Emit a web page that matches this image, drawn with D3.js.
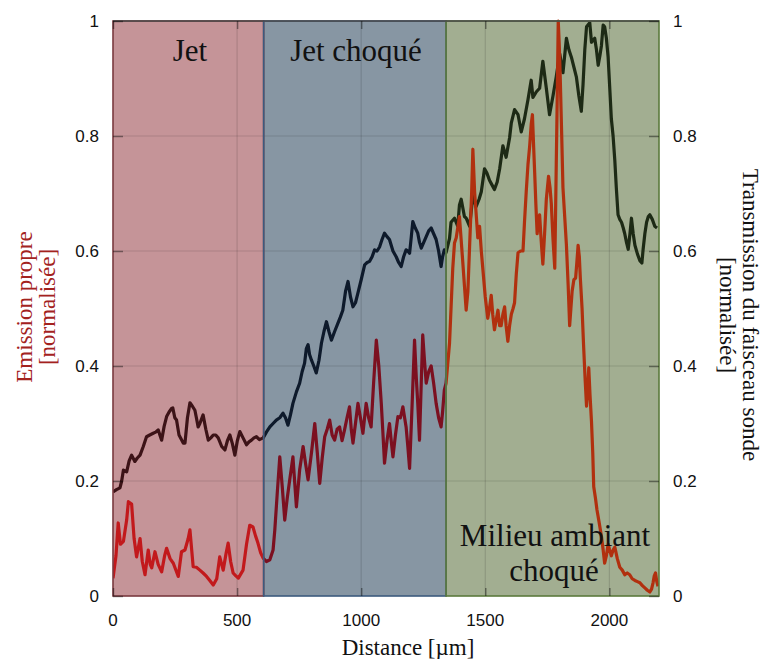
<!DOCTYPE html>
<html><head><meta charset="utf-8">
<script src="https://cdn.jsdelivr.net/npm/d3@7"></script>
<style>html,body{margin:0;padding:0;background:#fff;}svg{display:block;}</style>
</head><body>
<svg id="chart" width="763" height="659"></svg>
<script>
// ---- data ----
const regionNames = ["Jet", "Jet choqué", "Milieu ambiant"];
const regionStart = [0, 607, 1342];
const regionEnd = [607, 1342, 2200];
const xTicks = [0, 500, 1000, 1500, 2000];
const yTicks = [0, 0.2, 0.4, 0.6, 0.8, 1];
const yTickLabels = ["0", "0.2", "0.4", "0.6", "0.8", "1"];

const emissionDistance = [0,12,21,30,42,55,62,75,85,95,109,118,129,142,150,156,169,182,196,208,216,230,243,263,276,290,303,310,323,336,350,363,377,390,404,418,430,444,456,464,474,484,495,505,524,538,551,564,574,584,595,605,
618,632,645,652,662,672,682,692,702,712,725,739,752,766,776,786,800,813,823,833,843,853,863,873,883,893,903,913,923,933,943,953,960,967,977,987,997,1007,1020,1030,1040,1050,1061,1071,1081,1088,1094,1104,1114,1121,1128,1138,1148,1158,1168,1175,1181,1188,1195,1205,1215,1222,1228,1235,1242,1248,1255,1262,1272,1282,1292,1302,1312,1322,1328,1335,
1342,1356,1369,1376,1383,1396,1409,1416,1423,1430,1437,1445,1450,1457,1464,1470,1477,1484,1490,1500,1510,1517,1524,1530,1537,1544,1551,1558,1564,1571,1578,1584,1591,1598,1605,1612,1618,1625,1632,1642,1652,1658,1665,1672,1679,1685,1690,1695,1699,1704,1709,1714,1719,1725,1732,1739,1746,1755,1761,1766,1773,1780,1786,1789,1794,1798,1802,1808,1813,1820,1827,1834,1840,1845,1850,1857,1864,1869,1874,1879,1883,1890,1896,1902,1908,1913,1917,1922,1928,1933,1937,1944,1950,1958,1968,1975,1981,1988,1995,2001,2008,2015,2022,2032,2042,2052,2062,2072,2082,2092,2103,2113,2123,2133,2143,2153,2163,2170,2176,2181,2186,2191,2196];
const emissionValue = [0.031,0.07,0.127,0.09,0.095,0.132,0.164,0.16,0.1,0.068,0.1,0.06,0.037,0.08,0.055,0.049,0.077,0.055,0.042,0.07,0.083,0.065,0.057,0.034,0.077,0.08,0.1,0.115,0.051,0.05,0.045,0.04,0.034,0.027,0.019,0.03,0.068,0.045,0.075,0.092,0.06,0.04,0.035,0.031,0.045,0.09,0.123,0.12,0.105,0.092,0.075,0.066,
0.06,0.063,0.08,0.115,0.18,0.242,0.19,0.132,0.17,0.202,0.242,0.155,0.219,0.26,0.23,0.202,0.25,0.3,0.25,0.196,0.24,0.277,0.29,0.306,0.28,0.271,0.29,0.294,0.27,0.289,0.31,0.329,0.29,0.266,0.3,0.335,0.31,0.283,0.335,0.31,0.294,0.37,0.445,0.4,0.335,0.28,0.231,0.27,0.3,0.27,0.242,0.28,0.312,0.31,0.329,0.31,0.294,0.26,0.222,0.33,0.445,0.38,0.335,0.271,0.37,0.454,0.41,0.37,0.39,0.4,0.37,0.335,0.31,0.294,0.32,0.358,
0.37,0.44,0.57,0.614,0.623,0.66,0.583,0.54,0.497,0.53,0.61,0.7,0.777,0.703,0.66,0.623,0.643,0.6,0.57,0.52,0.483,0.5,0.523,0.49,0.463,0.48,0.497,0.47,0.47,0.49,0.503,0.47,0.443,0.47,0.49,0.5,0.51,0.56,0.597,0.6,0.6,0.65,0.703,0.75,0.783,0.82,0.837,0.78,0.737,0.68,0.63,0.65,0.663,0.62,0.577,0.63,0.69,0.73,0.71,0.683,0.62,0.57,0.75,0.837,1.0,0.96,0.903,0.8,0.71,0.66,0.61,0.54,0.47,0.5,0.53,0.55,0.553,0.58,0.61,0.59,0.553,0.5,0.437,0.38,0.33,0.36,0.397,0.35,0.303,0.25,0.19,0.17,0.15,0.13,0.104,0.08,0.057,0.07,0.09,0.08,0.07,0.08,0.085,0.065,0.05,0.045,0.037,0.04,0.037,0.03,0.027,0.025,0.023,0.018,0.014,0.01,0.007,0.012,0.023,0.035,0.04,0.025,0.017];

const transmissionDistance = [0,14,28,35,42,55,65,75,88,98,109,122,135,148,162,172,182,196,206,216,226,236,241,249,256,266,283,290,300,310,320,330,336,343,350,363,374,384,394,404,414,424,438,451,461,471,481,491,501,511,524,538,548,558,568,578,590,605,
618,632,645,658,672,685,695,705,715,725,739,752,762,772,779,786,792,799,809,819,830,840,850,860,870,880,893,906,916,926,937,947,957,967,977,987,1000,1014,1024,1034,1044,1054,1064,1074,1084,1094,1104,1114,1128,1141,1151,1161,1171,1181,1188,1195,1202,1208,1218,1228,1235,1242,1252,1262,1272,1282,1292,1302,1312,1322,1328,1335,
1342,1356,1362,1376,1389,1396,1403,1416,1423,1437,1450,1463,1475,1484,1497,1507,1517,1527,1537,1548,1558,1571,1584,1598,1605,1618,1632,1645,1658,1672,1685,1692,1706,1719,1732,1746,1759,1773,1786,1800,1813,1827,1837,1847,1857,1867,1877,1887,1894,1901,1908,1921,1928,1941,1948,1955,1962,1968,1975,1981,1988,1995,2002,2008,2015,2022,2028,2035,2042,2049,2056,2062,2069,2076,2083,2089,2096,2103,2113,2123,2131,2136,2143,2150,2157,2163,2173,2183,2192];
const transmissionValue = [0.181,0.185,0.188,0.2,0.219,0.216,0.235,0.245,0.234,0.24,0.245,0.26,0.277,0.28,0.283,0.285,0.289,0.271,0.295,0.312,0.32,0.326,0.327,0.31,0.306,0.28,0.266,0.266,0.31,0.336,0.33,0.323,0.31,0.294,0.3,0.315,0.29,0.271,0.275,0.28,0.28,0.275,0.26,0.254,0.27,0.28,0.265,0.245,0.27,0.286,0.275,0.263,0.268,0.271,0.275,0.277,0.272,0.275,
0.285,0.294,0.3,0.306,0.31,0.318,0.31,0.297,0.315,0.335,0.355,0.37,0.39,0.405,0.43,0.437,0.42,0.411,0.4,0.388,0.41,0.44,0.46,0.477,0.46,0.445,0.46,0.474,0.485,0.497,0.53,0.547,0.52,0.503,0.51,0.527,0.55,0.576,0.58,0.582,0.59,0.602,0.6,0.607,0.62,0.631,0.625,0.62,0.6,0.59,0.58,0.573,0.59,0.602,0.6,0.596,0.625,0.651,0.64,0.631,0.615,0.605,0.615,0.625,0.635,0.64,0.63,0.62,0.6,0.573,0.59,0.602,
0.597,0.622,0.65,0.657,0.643,0.68,0.69,0.66,0.657,0.643,0.697,0.677,0.69,0.703,0.743,0.735,0.723,0.715,0.707,0.72,0.743,0.783,0.763,0.797,0.823,0.846,0.837,0.807,0.83,0.863,0.897,0.867,0.877,0.883,0.93,0.883,0.837,0.87,0.903,0.943,0.91,0.97,0.95,0.937,0.92,0.903,0.87,0.843,0.89,0.95,0.99,0.997,0.963,0.97,0.95,0.923,0.94,0.957,0.993,0.99,0.97,0.937,0.88,0.83,0.8,0.757,0.71,0.663,0.655,0.65,0.64,0.63,0.615,0.603,0.63,0.657,0.63,0.61,0.595,0.583,0.579,0.603,0.63,0.65,0.66,0.663,0.655,0.643,0.64];

// ---- styles ----
const regionFill = ["#c59498", "#8796a3", "#a2ae91"];
const regionStroke = ["#7a3a40", "#3d5a7e", "#5c7a3c"];
const emissionColors = ["#c2191c", "#7c1020", "#b1300f"];
const transmissionColors = ["#3c1317", "#0e1a2b", "#1d2a15"];

const svg = d3.select("#chart");
const M = {left: 113, right: 659, top: 21, bottom: 596};
const x = d3.scaleLinear().domain([0, 2200]).range([M.left, M.right]);
const y = d3.scaleLinear().domain([0, 1]).range([M.bottom, M.top]);

// regions
const regions = regionNames.map((n, i) => ({name: n, a: regionStart[i], b: regionEnd[i], i}));
svg.append("g").selectAll("rect").data(regions).join("rect")
  .attr("x", d => x(d.a)).attr("y", M.top)
  .attr("width", d => x(d.b) - x(d.a)).attr("height", M.bottom - M.top)
  .attr("fill", d => regionFill[d.i]);

// clip paths
const defs = svg.append("defs");
regions.forEach(r => {
  defs.append("clipPath").attr("id", "clip" + r.i).append("rect")
    .attr("x", x(r.a)).attr("y", M.top - 5).attr("width", x(r.b) - x(r.a)).attr("height", M.bottom - M.top + 10);
});

// grid
const grid = svg.append("g").attr("stroke", "#000").attr("stroke-opacity", 0.13).attr("stroke-width", 1.2);
grid.selectAll(".gx").data(xTicks.filter(t => t > 0)).join("line")
  .attr("x1", d => x(d)).attr("x2", d => x(d)).attr("y1", M.top).attr("y2", M.bottom);
grid.selectAll(".gy").data(yTicks.filter(t => t > 0 && t < 1)).join("line")
  .attr("x1", M.left).attr("x2", M.right).attr("y1", d => y(d)).attr("y2", d => y(d));

// lines
const emission = emissionDistance.map((d, i) => [d, emissionValue[i]]);
const transmission = transmissionDistance.map((d, i) => [d, transmissionValue[i]]);
const line = d3.line().x(d => x(d[0])).y(d => y(d[1]));
regions.forEach(r => {
  const g = svg.append("g").attr("clip-path", `url(#clip${r.i})`).attr("fill", "none")
    .attr("stroke-width", 3.2).attr("stroke-linejoin", "round");
  g.append("path").datum(transmission).attr("d", line).attr("stroke", transmissionColors[r.i]);
  g.append("path").datum(emission).attr("d", line).attr("stroke", emissionColors[r.i]);
});

// region borders
svg.append("g").selectAll("rect").data(regions).join("rect")
  .attr("x", d => x(d.a)).attr("y", M.top)
  .attr("width", d => x(d.b) - x(d.a)).attr("height", M.bottom - M.top)
  .attr("fill", "none").attr("stroke", d => regionStroke[d.i]).attr("stroke-width", 1.6);
svg.append("line").attr("x1", M.left).attr("x2", M.right).attr("y1", M.top).attr("y2", M.top)
  .attr("stroke", "#4a4a4a").attr("stroke-width", 1.4);

// axes (inner ticks)
const tickStyle = g => g.selectAll("line").attr("stroke", "#000").attr("stroke-opacity", 0.4).attr("stroke-width", 1.5);
const axL = svg.append("g").attr("transform", `translate(${M.left},0)`)
  .call(d3.axisRight(y).tickValues(yTicks).tickSize(10).tickFormat(""));
const axR = svg.append("g").attr("transform", `translate(${M.right},0)`)
  .call(d3.axisLeft(y).tickValues(yTicks).tickSize(10).tickFormat(""));
const axB = svg.append("g").attr("transform", `translate(0,${M.bottom})`)
  .call(d3.axisTop(x).tickValues(xTicks).tickSize(8).tickFormat(""));
const axT = svg.append("g").attr("transform", `translate(0,${M.top})`)
  .call(d3.axisBottom(x).tickValues(xTicks).tickSize(8).tickFormat(""));
[axL, axR, axB, axT].forEach(a => { a.select(".domain").remove(); tickStyle(a); });

// tick labels
const lab = svg.append("g").attr("font-family", "'Liberation Sans', Arial, sans-serif").attr("font-size", 17).attr("fill", "#111");
lab.selectAll(".yl").data(yTicks).join("text")
  .attr("x", 99).attr("y", d => y(d)).attr("dy", "0.35em").attr("text-anchor", "end")
  .text((d, i) => yTickLabels[i]);
lab.selectAll(".yr").data(yTicks).join("text")
  .attr("x", 673).attr("y", d => y(d)).attr("dy", "0.35em").attr("text-anchor", "start")
  .text((d, i) => yTickLabels[i]);
lab.selectAll(".xl").data(xTicks).join("text")
  .attr("x", d => x(d)).attr("y", 620).attr("dy", "0.35em").attr("text-anchor", "middle")
  .text(d => d);

// titles
const serif = "'Liberation Serif', 'Times New Roman', serif";
svg.append("text").attr("x", 408).attr("y", 655).attr("text-anchor", "middle")
  .attr("font-family", serif).attr("font-size", 23).attr("fill", "#111").text("Distance [µm]");
const lt = svg.append("text").attr("transform", "translate(0,307) rotate(-90)")
  .attr("text-anchor", "middle").attr("font-family", serif).attr("font-size", 23).attr("fill", "#a3221e");
lt.append("tspan").attr("x", 0).attr("y", 32).text("Emission propre");
lt.append("tspan").attr("x", 0).attr("y", 55).text("[normalisée]");
const rt = svg.append("text").attr("transform", "translate(0,315) rotate(90)")
  .attr("text-anchor", "middle").attr("font-family", serif).attr("font-size", 23).attr("fill", "#111");
rt.append("tspan").attr("x", 0).attr("y", -743).text("Transmission du faisceau sonde");
rt.append("tspan").attr("x", 0).attr("y", -720).text("[normalisée]");

// region labels
const rl = svg.append("g").attr("font-family", serif).attr("font-size", 31).attr("fill", "#111").attr("text-anchor", "middle");
rl.append("text").attr("x", 190).attr("y", 61).text(regionNames[0]);
rl.append("text").attr("x", 356).attr("y", 61).text(regionNames[1]);
rl.append("text").attr("x", 555).attr("y", 546).text(regionNames[2]);
rl.append("text").attr("x", 554).attr("y", 581).text("choqué");
</script>
</body></html>
